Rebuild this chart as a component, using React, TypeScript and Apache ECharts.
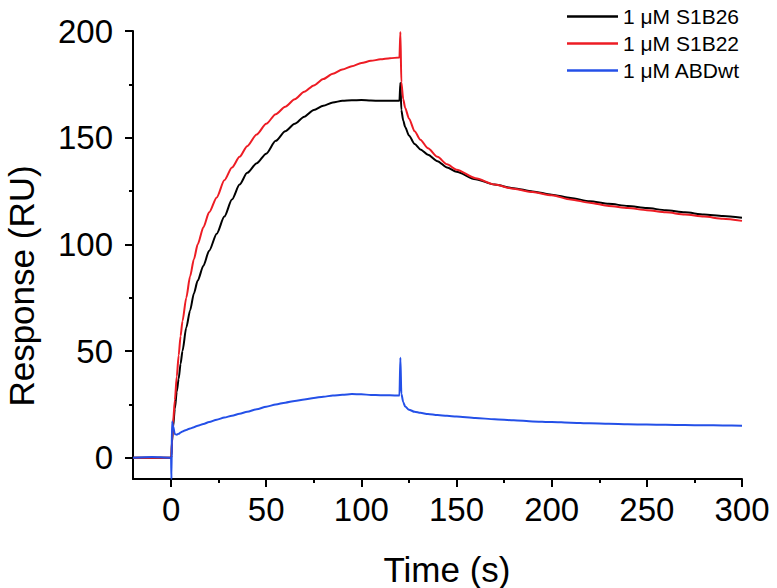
import React, { useEffect, useRef } from "react";
import * as echarts from "echarts";

const times = [
  -20, -10, -1, 0, 0.2, 0.5, 1, 2, 3, 4, 5, 6, 8, 10, 12, 14, 17, 20, 24, 28,
  32, 36, 40, 45, 50, 55, 60, 65, 70, 75, 80, 85, 90, 95, 100, 105, 110, 115,
  120, 120.5, 121, 122, 123, 125, 128, 131, 135, 140, 145, 150, 160, 170, 180,
  190, 200, 210, 220, 230, 240, 250, 260, 270, 280, 290, 300,
];

const s1b26 = [
  0, 0, 0, 0, 1, 7, 14, 23, 31, 37, 44, 50, 61, 69, 77, 83, 90, 97, 105, 113,
  121, 128, 133.5, 138, 142.5, 148.5, 153, 156.5, 159.8, 163, 165, 166.5, 167.3,
  167.5, 167.6, 167.4, 167.3, 167.3, 167.3, 175.7, 163, 158, 155, 151, 147,
  144.5, 142, 139, 136, 134, 130.5, 128, 126.3, 124.8, 123.3, 121.7, 120.2, 119,
  118, 117, 116, 115, 114, 113.3, 112.5,
];

const s1b22 = [
  0, 0, 0, 0, 1, 8, 16, 27, 38, 48, 57, 64, 75, 85, 93, 100, 108, 115, 122, 130,
  136, 141, 146, 151.5, 156.5, 161, 164.5, 168, 171.5, 174.5, 177.5, 180, 182,
  183.5, 185, 186, 186.7, 187.2, 187.6, 199.5, 176, 168, 164, 159, 153, 149, 145,
  141, 137.5, 135, 131, 128, 126, 124.5, 123, 121, 119.5, 118, 117, 116, 115,
  114, 113, 112, 111,
];

const abdwt = [
  0, 0.3, 0, 0, -10, 17, 15, 11, 10.8, 11.2, 11.8, 12.3, 13, 13.7, 14.3, 15,
  15.8, 16.7, 17.8, 18.8, 19.7, 20.6, 21.5, 22.7, 23.9, 24.9, 25.8, 26.6, 27.3,
  28, 28.6, 29.1, 29.5, 29.8, 29.7, 29.4, 29.3, 29.2, 29.1, 46.8, 30, 26, 24,
  22.5, 21.5, 21, 20.5, 20, 19.6, 19.3, 18.6, 18, 17.5, 17, 16.7, 16.4, 16.1,
  15.9, 15.7, 15.5, 15.4, 15.3, 15.2, 15.1, 15,
];

const seriesNames = ["1 μM S1B26", "1 μM S1B22", "1 μM ABDwt"];
const seriesColors = ["#000000", "#ed1c24", "#2450e8"];
const seriesValues = [s1b26, s1b22, abdwt];

const xMajorTicks = [0, 50, 100, 150, 200, 250, 300];
const xMinorTicks = [25, 75, 125, 175, 225, 275];
const yMajorTicks = [0, 50, 100, 150, 200];
const yMinorTicks = [25, 75, 125, 175];

const xTitle = "Time (s)";
const yTitle = "Response (RU)";

const FONT = "'Liberation Sans', Arial, Helvetica, sans-serif";

export default function App() {
  const ref = useRef<HTMLDivElement>(null);

  useEffect(() => {
    if (!ref.current) return;
    const chart = echarts.init(ref.current, undefined, { renderer: "svg" });

    const axisLineStyle = { color: "#000", width: 2 };

    const option: any = {
      animation: false,
      backgroundColor: "#ffffff",
      grid: { left: 133, right: 35, top: 31, bottom: 109 },
      legend: {
        orient: "vertical",
        left: 562,
        top: 1,
        itemWidth: 51,
        itemHeight: 14,
        itemGap: 6,
        icon: "path://M0,0H51V2.6H0Z",
        data: seriesNames,
        textStyle: { fontSize: 21, color: "#000", fontFamily: FONT },
      },
      xAxis: [
        {
          type: "value",
          min: -20,
          max: 300,
          position: "bottom",
          axisLine: { onZero: false, lineStyle: axisLineStyle },
          axisTick: { customValues: xMajorTicks, length: 8, lineStyle: axisLineStyle },
          axisLabel: {
            customValues: xMajorTicks,
            fontSize: 33,
            color: "#000",
            fontFamily: FONT,
            margin: 14,
          },
          splitLine: { show: false },
        },
        {
          type: "value",
          min: -20,
          max: 300,
          position: "bottom",
          axisLine: { show: false, onZero: false },
          axisTick: { customValues: xMinorTicks, length: 4, lineStyle: axisLineStyle },
          axisLabel: { show: false },
          splitLine: { show: false },
        },
      ],
      yAxis: [
        {
          type: "value",
          min: -10,
          max: 200,
          position: "left",
          axisLine: { show: true, onZero: false, lineStyle: axisLineStyle },
          axisTick: { show: true, customValues: yMajorTicks, length: 8, lineStyle: axisLineStyle },
          axisLabel: {
            customValues: yMajorTicks,
            fontSize: 33,
            color: "#000",
            fontFamily: FONT,
            margin: 20,
          },
          splitLine: { show: false },
        },
        {
          type: "value",
          min: -10,
          max: 200,
          position: "left",
          axisLine: { show: false, onZero: false },
          axisTick: { show: true, customValues: yMinorTicks, length: 4, lineStyle: axisLineStyle },
          axisLabel: { show: false },
          splitLine: { show: false },
        },
      ],
      series: seriesNames.map((name, i) => ({
        name,
        type: "line",
        xAxisIndex: 0,
        yAxisIndex: 0,
        data: times.map((t, j) => [t, seriesValues[i][j]]),
        showSymbol: false,
        symbol: "none",
        smooth: 0.25,
        smoothMonotone: "x",
        color: seriesColors[i],
        itemStyle: { color: seriesColors[i] },
        lineStyle: { color: seriesColors[i], width: 2 },
        emphasis: { disabled: true },
        z: 2 + i,
      })),
      graphic: [
        {
          type: "text",
          x: 447,
          y: 569,
          style: {
            text: xTitle,
            fontSize: 35,
            fontFamily: FONT,
            fill: "#000",
            align: "center",
            verticalAlign: "middle",
          },
        },
        {
          type: "text",
          x: 21,
          y: 286,
          rotation: Math.PI / 2,
          style: {
            text: yTitle,
            fontSize: 35,
            fontFamily: FONT,
            fill: "#000",
            align: "center",
            verticalAlign: "middle",
          },
        },
      ],
    };

    chart.setOption(option);
    return () => chart.dispose();
  }, []);

  return (
    <div
      ref={ref}
      style={{ position: "absolute", left: 0, top: 0, width: 777, height: 588 }}
    />
  );
}
